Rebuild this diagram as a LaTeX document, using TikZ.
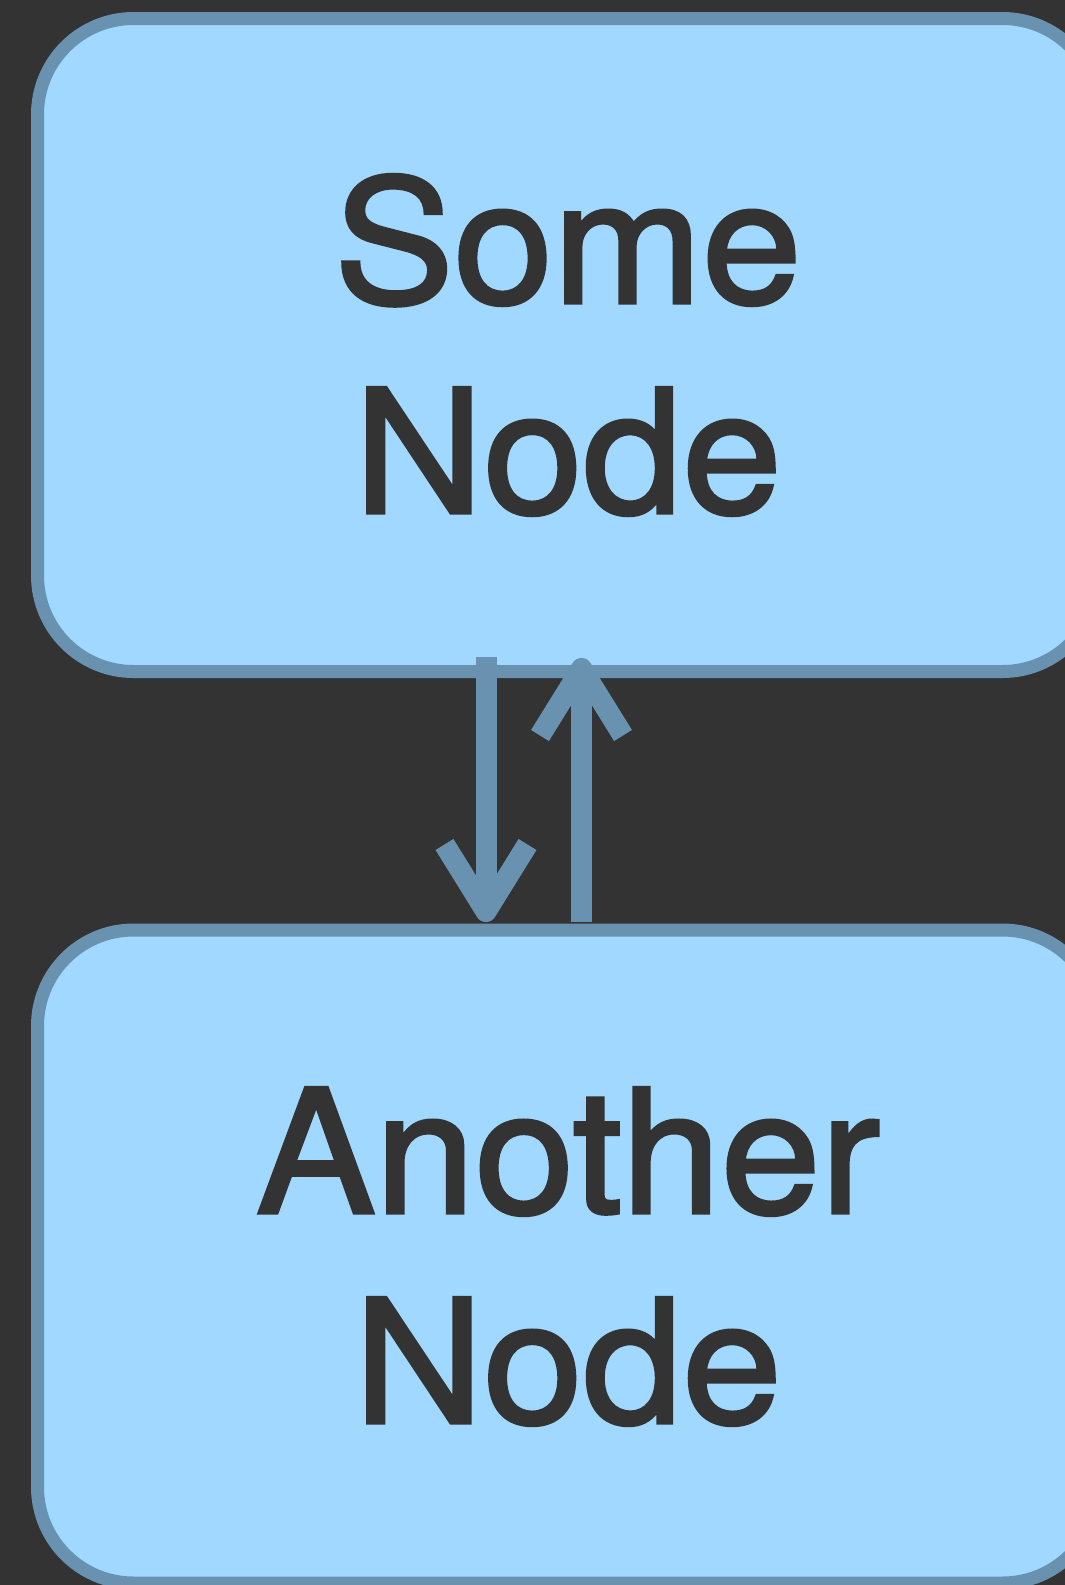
\documentclass[tikz,border=0pt]{standalone}
\usepackage{fontspec}
\setmainfont{TeX Gyre Heros}[FakeBold=2, FakeStretch=1.04]
\usetikzlibrary{arrows.meta}
\definecolor{bg}{HTML}{333333}
\definecolor{boxfill}{HTML}{A0D8FF}
\definecolor{boxline}{HTML}{6892B0}
\definecolor{txt}{HTML}{333333}
\begin{document}
\begin{tikzpicture}[x=0.5pt,y=-0.5pt,
  box/.style={draw=boxline, fill=boxfill, line width=6.5pt, rounded corners=48pt,
    minimum width=530.5pt, minimum height=326.5pt, align=center, text=txt,
    font=\fontsize{86}{105}\selectfont, inner sep=0pt},
  link/.style={draw=boxline, line width=10.5pt, line cap=butt,
    -{Straight Barb[length=33.5pt, width=41.5pt, line width=10.5pt, line join=round, line cap=butt]}}]
\fill[bg] (0,0) rectangle (1065,1585);
\useasboundingbox (0,0) rectangle (1065,1585);
\node[box] (a) at (568,345) {Some\\Node};
\node[box] (b) at (568,1256.5) {Another\\Node};
\draw[link] ([xshift=-41pt, yshift=10.5pt]a.south) -- ([xshift=-41pt, yshift=0.75pt]b.north);
\draw[link] ([xshift=6.75pt, yshift=0.75pt]b.north) -- ([xshift=6.75pt, yshift=10pt]a.south);
\end{tikzpicture}
\end{document}
